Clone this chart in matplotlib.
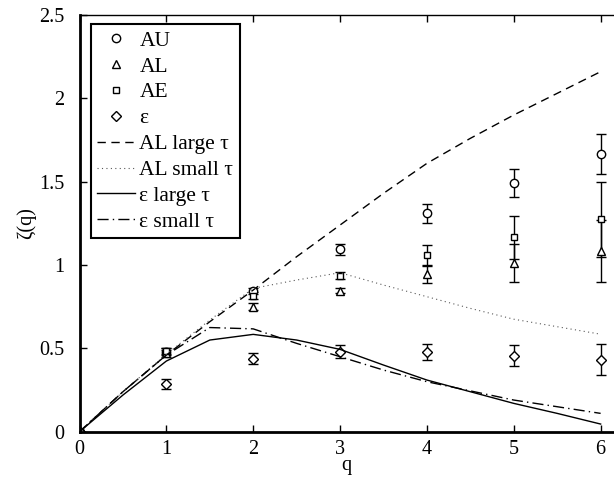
import numpy as np
import matplotlib
matplotlib.use('Agg')
import matplotlib.pyplot as plt

plt.rcParams['font.family'] = ['Liberation Serif', 'DejaVu Serif']
plt.rcParams['mathtext.fontset'] = 'stix'

# measured exponents
q_pts = [0, 1, 2, 3, 4, 5, 6]
au = [0, 0.48, 0.845, 1.094, 1.311, 1.491, 1.665]
au_err = [0, 0.02, 0.02, 0.032, 0.058, 0.084, 0.12]
al = [0, 0.47, 0.75, 0.846, 0.945, 1.015, 1.085]
al_err = [0, 0.02, 0.02, 0.015, 0.05, 0.114, 0.185]
ae = [0, 0.485, 0.816, 0.936, 1.061, 1.167, 1.275]
ae_err = [0, 0.02, 0.02, 0.02, 0.06, 0.13, 0.225]
eps = [0, 0.286, 0.438, 0.48, 0.478, 0.456, 0.432]
eps_err = [0, 0.032, 0.033, 0.04, 0.048, 0.064, 0.094]

# model curves
q_line = [0, 0.5, 1, 1.5, 2, 2.5, 3, 3.5, 4, 4.5, 5, 5.5, 6]
al_large = [0, 0.24, 0.46, 0.66, 0.85, 1.05, 1.24, 1.43, 1.61, 1.76, 1.90, 2.03, 2.16]
al_small = [0, 0.24, 0.465, 0.67, 0.86, 0.91, 0.954, 0.88, 0.81, 0.74, 0.675, 0.63, 0.585]
eps_large = [0, 0.22, 0.424, 0.55, 0.584, 0.55, 0.494, 0.40, 0.31, 0.24, 0.17, 0.11, 0.046]
eps_small = [0, 0.24, 0.46, 0.625, 0.617, 0.53, 0.45, 0.37, 0.30, 0.245, 0.19, 0.15, 0.11]

fig = plt.figure(figsize=(6.14, 4.79), dpi=100)
ax = fig.add_axes([0.1295, 0.0987, 1 - 0.1295, 0.87])

ms = 6
for y, err in [(au, au_err), (al, al_err), (ae, ae_err), (eps, eps_err)]:
    ax.errorbar(q_pts, y, yerr=err, fmt='none', ecolor='black', elinewidth=1, capsize=3.6, capthick=1)

ax.plot(q_pts, au, 'o', mfc='white', mec='black', ms=ms, mew=1, label='AU')
ax.plot(q_pts, al, '^', mfc='white', mec='black', ms=ms, mew=1, label='AL')
ax.plot(q_pts, ae, 's', mfc='white', mec='black', ms=ms - 1, mew=1, label='AE')
ax.plot(q_pts, eps, 'D', mfc='white', mec='black', ms=ms - 1, mew=1, label='ε')

ax.plot(q_line, al_large, color='black', lw=1, ls=(0, (6, 4)), label='AL large τ')
ax.plot(q_line, al_small, color='0.35', lw=0.8, ls=(0, (1, 3)), label='AL small τ')
ax.plot(q_line, eps_large, color='black', lw=1, ls='-', label='ε large τ')
ax.plot(q_line, eps_small, color='black', lw=1, ls=(0, (8, 3, 1, 3)), label='ε small τ')

ax.set_xlim(0, 6.154)
ax.set_ylim(0, 2.5)
ax.set_xticks([0, 1, 2, 3, 4, 5, 6])
ax.set_yticks([0, 0.5, 1, 1.5, 2, 2.5])
ax.set_yticklabels(['0', '0.5', '1', '1.5', '2', '2.5'])
ax.tick_params(direction='in', length=5, width=1, labelsize=14.5, top=True, right=False)
ax.tick_params(axis='x', pad=6)
ax.tick_params(axis='y', pad=11)
ax.spines['left'].set_linewidth(2)
ax.spines['bottom'].set_linewidth(2)
ax.spines['top'].set_linewidth(1)
ax.spines['right'].set_visible(False)
ax.set_xlabel('q', fontsize=14.5, labelpad=-2)
ax.set_ylabel('ζ(q)', fontsize=14.5, labelpad=2)

leg = ax.legend(loc='upper left', bbox_to_anchor=(0.0215, 0.978), borderaxespad=0,
                fontsize=15.5, numpoints=1,
                handlelength=1.75, handletextpad=0.2, labelspacing=0.27, borderpad=0.3,
                fancybox=False, framealpha=1, edgecolor='black')
leg.get_frame().set_linewidth(1.5)

fig.savefig('out.png', dpi=100)
